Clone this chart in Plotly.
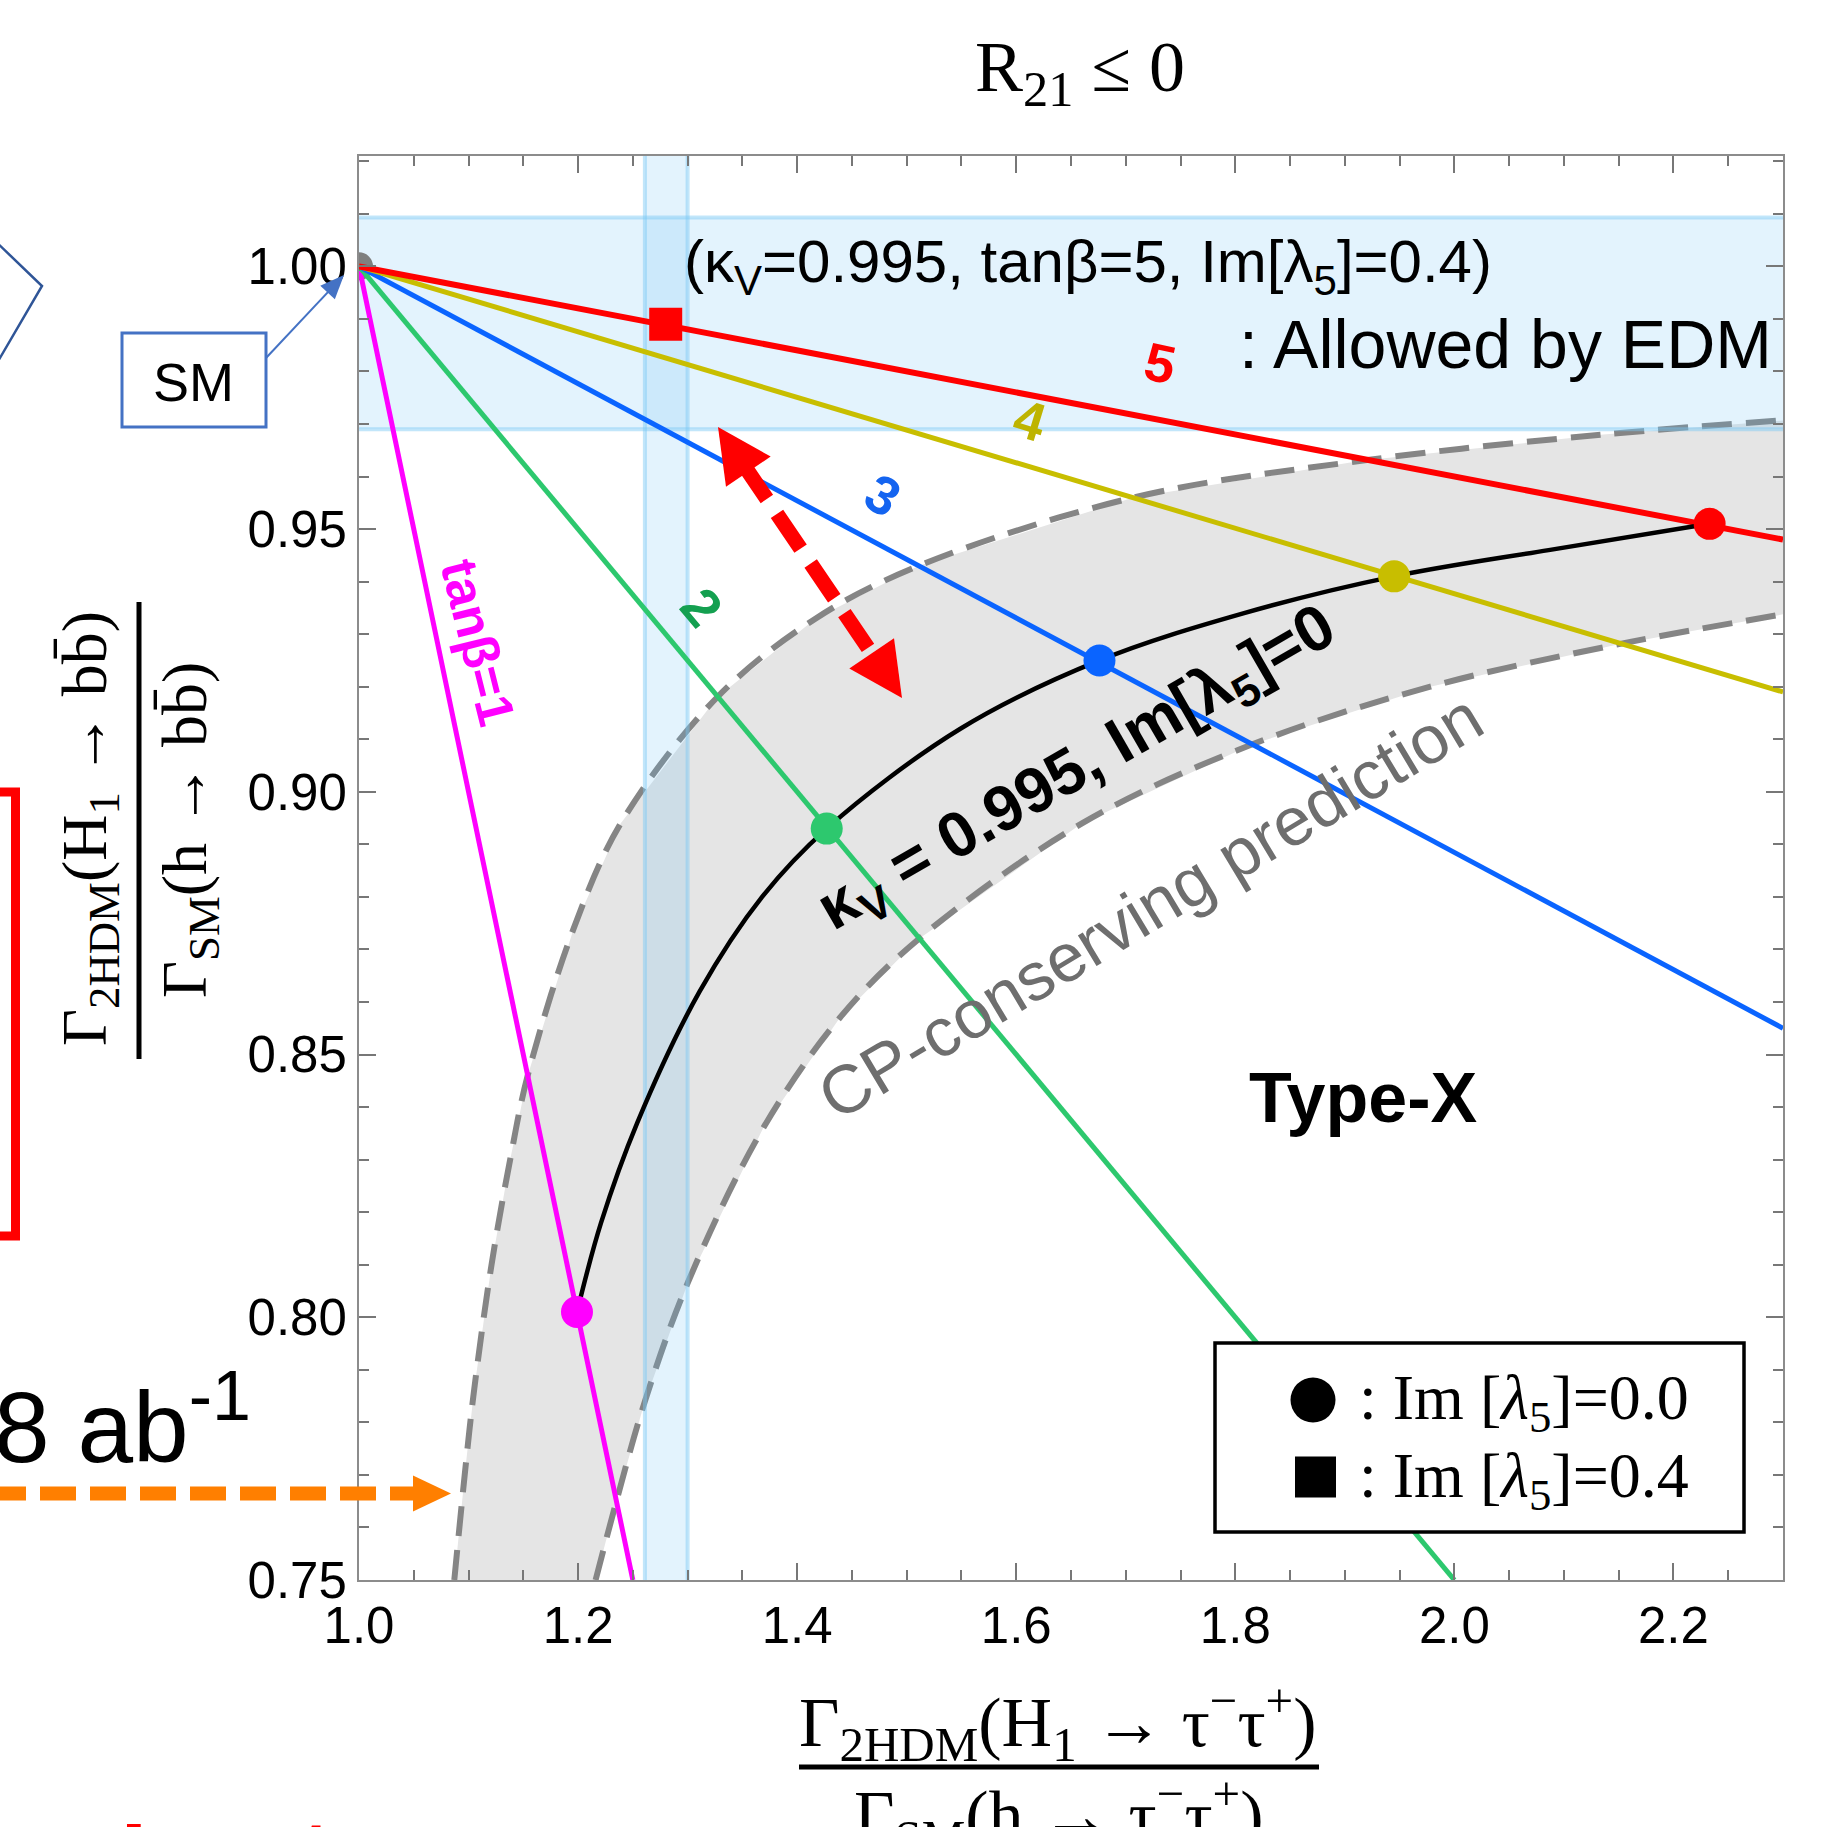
import plotly.graph_objects as go

# ---------------- data ----------------
x_range = [1.0, 2.3]
y_range = [0.75, 1.021]
x_ticks = [1.0, 1.2, 1.4, 1.6, 1.8, 2.0, 2.2]
x_tick_labels = ["1.0", "1.2", "1.4", "1.6", "1.8", "2.0", "2.2"]
y_ticks = [0.75, 0.80, 0.85, 0.90, 0.95, 1.00]
y_tick_labels = ["0.75", "0.80", "0.85", "0.90", "0.95", "1.00"]

sm_x = [1.0]
sm_y = [1.0]

tanb_values = ["1", "2", "3", "4", "5"]
line_end_x = [1.25, 2.0, 2.3, 2.3, 2.3]
line_end_y = [0.75, 0.75, 0.855, 0.919, 0.948]

cpc_dot_x = [1.199, 1.427, 1.676, 1.945, 2.233]
cpc_dot_y = [0.801, 0.893, 0.925, 0.941, 0.951]

cpv_square_x = [1.28]
cpv_square_y = [0.989]

kv0995_x = [1.199, 1.221, 1.254, 1.311, 1.368, 1.427, 1.549, 1.676, 1.808, 1.945, 2.086, 2.233]
kv0995_y = [0.801, 0.818, 0.837, 0.862, 0.880, 0.893, 0.912, 0.925, 0.934, 0.941, 0.946, 0.951]

band_upper_x = [1.087, 1.097, 1.105, 1.121, 1.138, 1.154, 1.196, 1.239, 1.327, 1.417, 1.511, 1.707, 1.915, 2.136, 2.321]
band_upper_y = [0.750, 0.771, 0.786, 0.810, 0.830, 0.846, 0.874, 0.894, 0.918, 0.933, 0.943, 0.956, 0.963, 0.968, 0.971]

band_lower_x = [1.216, 1.235, 1.261, 1.301, 1.369, 1.439, 1.511, 1.660, 1.815, 1.978, 2.148, 2.306]
band_lower_y = [0.750, 0.765, 0.784, 0.807, 0.836, 0.857, 0.872, 0.894, 0.909, 0.920, 0.928, 0.934]

edm_band_y = [0.969, 1.0093]
tau_band_x = [1.261, 1.300]

# ---------------- styles ----------------
line_colors = ["#FF00FF", "#2DC86E", "#0A64FF", "#C8BE00", "#FF0000"]
label_colors = ["#FF00FF", "#14A050", "#1464F0", "#BEB400", "#FF0000"]
line_widths = [5, 5, 5, 5, 6]

SANS = "Liberation Sans, Arial, sans-serif"
SERIF = "Liberation Serif, Times New Roman, serif"

W, H = 1827, 1827
L, R, T, B = 359, 1783, 156, 1580


def px(X):
    return (X - L) / (R - L)


def py(Y):
    return (B - Y) / (B - T)


fig = go.Figure()

# CP-conserving band fill
fig.add_trace(go.Scatter(x=band_upper_x + band_lower_x[::-1], y=band_upper_y + band_lower_y[::-1],
                         mode="lines", fill="toself", fillcolor="#E5E5E5", line=dict(width=0),
                         hoverinfo="skip"))
for bx, by in [(band_upper_x, band_upper_y), (band_lower_x, band_lower_y)]:
    fig.add_trace(go.Scatter(x=bx, y=by, mode="lines",
                             line=dict(color="#858585", width=6, dash="30px,14px", shape="spline"),
                             hoverinfo="skip"))

# light-blue bands
band_fill = "rgba(100,190,245,0.18)"
band_edge = "rgba(120,200,245,0.45)"
fig.add_trace(go.Scatter(x=[x_range[0], x_range[1], x_range[1], x_range[0]],
                         y=[edm_band_y[0], edm_band_y[0], edm_band_y[1], edm_band_y[1]],
                         mode="lines", fill="toself", fillcolor=band_fill, line=dict(width=0), hoverinfo="skip"))
fig.add_trace(go.Scatter(x=[tau_band_x[0], tau_band_x[1], tau_band_x[1], tau_band_x[0]],
                         y=[y_range[0], y_range[0], y_range[1], y_range[1]],
                         mode="lines", fill="toself", fillcolor=band_fill, line=dict(width=0), hoverinfo="skip"))
for yv in edm_band_y:
    fig.add_trace(go.Scatter(x=x_range, y=[yv, yv], mode="lines", line=dict(color=band_edge, width=4),
                             hoverinfo="skip"))
for xv in tau_band_x:
    fig.add_trace(go.Scatter(x=[xv, xv], y=y_range, mode="lines", line=dict(color=band_edge, width=4),
                             hoverinfo="skip"))

# SM point
fig.add_trace(go.Scatter(x=sm_x, y=sm_y, mode="markers", marker=dict(size=28, color="#7F7F7F"),
                         cliponaxis=True, hoverinfo="skip"))

# tan(beta) lines
for i in range(len(tanb_values)):
    fig.add_trace(go.Scatter(x=[sm_x[0], line_end_x[i]], y=[sm_y[0], line_end_y[i]], mode="lines",
                             line=dict(color=line_colors[i], width=line_widths[i]), hoverinfo="skip"))

# kappa_V = 0.995 curve
fig.add_trace(go.Scatter(x=kv0995_x, y=kv0995_y, mode="lines",
                         line=dict(color="black", width=4.5, shape="spline"), hoverinfo="skip"))

# dots and square
fig.add_trace(go.Scatter(x=cpc_dot_x, y=cpc_dot_y, mode="markers",
                         marker=dict(size=32, color=line_colors, line=dict(width=0)), hoverinfo="skip"))
fig.add_trace(go.Scatter(x=cpv_square_x, y=cpv_square_y, mode="markers",
                         marker=dict(size=33, color="#FF0000", symbol="square", line=dict(width=0)),
                         hoverinfo="skip"))


# ---------------- decorations ----------------
def tri(tip, u, length, halfw):
    bx, by = tip[0] - u[0] * length, tip[1] - u[1] * length
    nx, ny = -u[1], u[0]
    p1 = (bx + nx * halfw, by + ny * halfw)
    p2 = (bx - nx * halfw, by - ny * halfw)
    return ("M {:.5f},{:.5f} L {:.5f},{:.5f} L {:.5f},{:.5f} Z".format(
        px(tip[0]), py(tip[1]), px(p1[0]), py(p1[1]), px(p2[0]), py(p2[1])))


def pline(X0, Y0, X1, Y1, color, width, dash="solid"):
    return dict(type="line", xref="paper", yref="paper", x0=px(X0), y0=py(Y0), x1=px(X1), y1=py(Y1),
                line=dict(color=color, width=width, dash=dash), layer="above")


def ppath(path, fill, color=None, width=0):
    return dict(type="path", xref="paper", yref="paper", path=path, fillcolor=fill,
                line=dict(color=color or fill, width=width), layer="above")


shapes = []
# red dashed double arrow
t1, t2 = (718, 427), (902, 698)
dx, dy = t2[0] - t1[0], t2[1] - t1[1]
ln = (dx * dx + dy * dy) ** 0.5
u = (dx / ln, dy / ln)
shapes.append(pline(t1[0] + u[0] * 45, t1[1] + u[1] * 45, t2[0] - u[0] * 45, t2[1] - u[1] * 45,
                    "#FF0000", 15, "42px,18px"))
shapes.append(ppath(tri(t2, u, 54, 27), "#FF0000"))
shapes.append(ppath(tri(t1, (-u[0], -u[1]), 54, 27), "#FF0000"))

# SM box and arrow
shapes.append(dict(type="rect", xref="paper", yref="paper", x0=px(122), x1=px(266), y0=py(427), y1=py(333),
                   line=dict(color="#4472C4", width=3), fillcolor="white", layer="above"))
sa, sb = (266, 358), (344, 275)
dx, dy = sb[0] - sa[0], sb[1] - sa[1]
ln = (dx * dx + dy * dy) ** 0.5
us = (dx / ln, dy / ln)
shapes.append(pline(sa[0], sa[1], sb[0] - us[0] * 18, sb[1] - us[1] * 18, "#4472C4", 2))
shapes.append(ppath(tri(sb, us, 24, 10), "#4472C4"))

# blue chevron at top-left (slide element)
shapes.append(dict(type="path", xref="paper", yref="paper",
                   path="M {:.5f},{:.5f} L {:.5f},{:.5f} L {:.5f},{:.5f}".format(
                       px(-10), py(236), px(42), py(286), px(-10), py(375)),
                   line=dict(color="#2F5597", width=2.5), layer="above"))
# red rectangle at left (slide element)
shapes.append(dict(type="rect", xref="paper", yref="paper", x0=px(-40), x1=px(15.5), y0=py(1236), y1=py(792),
                   line=dict(color="#FF0000", width=9), layer="above"))
# orange dashed arrow
shapes.append(pline(-10, 1493.5, 416, 1493.5, "#FF7F00", 14, "36px,14px"))
shapes.append(ppath(tri((451, 1493.5), (1, 0), 38, 18), "#FF7F00"))

# fraction bars for axis titles
shapes.append(pline(139, 602, 139, 1059, "black", 5))
shapes.append(pline(799, 1767, 1319, 1767, "black", 5))

# legend box
shapes.append(dict(type="rect", xref="paper", yref="paper", x0=px(1215), x1=px(1744), y0=py(1532), y1=py(1343),
                   line=dict(color="black", width=3.5), fillcolor="white", layer="above"))
shapes.append(dict(type="circle", xref="paper", yref="paper", x0=px(1290.5), x1=px(1335.5),
                   y0=py(1422.5), y1=py(1377.5), line=dict(width=0), fillcolor="black", layer="above"))
shapes.append(dict(type="rect", xref="paper", yref="paper", x0=px(1295), x1=px(1336),
                   y0=py(1497.5), y1=py(1456.5), line=dict(width=0), fillcolor="black", layer="above"))


def ann(text, X, Y, size, color="black", family=SANS, angle=0, xanchor="center", yanchor="middle"):
    return dict(text=text, x=px(X), y=py(Y), xref="paper", yref="paper", showarrow=False,
                font=dict(family=family, size=size, color=color), textangle=angle,
                xanchor=xanchor, yanchor=yanchor)


annotations = [
    ann("R<sub>21</sub> ≤ 0", 1080, 72, 72, family=SERIF),
    ann("(κ<sub>V</sub>=0.995, tanβ=5, Im[λ<sub>5</sub>]=0.4)", 682, 266, 60, xanchor="left"),
    ann(": Allowed by EDM", 1774, 344, 68, xanchor="right"),
    ann("SM", 193, 382, 54),
    ann("<b>tanβ=1</b>", 478, 642, 52, color=label_colors[0], angle=76),
    ann("<b>2</b>", 702, 607, 54, color=label_colors[1], angle=50),
    ann("<b>3</b>", 883, 495, 54, color=label_colors[2], angle=30),
    ann("<b>4</b>", 1030, 420, 54, color=label_colors[3], angle=17),
    ann("<b>5</b>", 1160, 363, 54, color=label_colors[4], angle=12),
    ann("<b>κ<sub>V</sub> = 0.995, Im[λ<sub>5</sub>]=0</b>", 1077, 770, 64, angle=-30),
    ann("CP-conserving prediction", 1150, 906, 68, color="#6E6E6E", angle=-31),
    ann("<b>Type-X</b>", 1363, 1098, 70),
    ann(": Im [<i>λ</i><sub>5</sub>]=0.0", 1357, 1402, 64, family=SERIF, xanchor="left"),
    ann(": Im [<i>λ</i><sub>5</sub>]=0.4", 1357, 1480, 64, family=SERIF, xanchor="left"),
    # axis titles as fractions
    ann("Γ<sub>2HDM</sub>(H<sub>1</sub> → bb̄)", 89, 829, 64, family=SERIF, angle=-90),
    ann("Γ<sub>SM</sub>(h → bb̄)", 189, 830, 64, family=SERIF, angle=-90),
    ann("Γ<sub>2HDM</sub>(H<sub>1</sub> → τ<sup>−</sup>τ<sup>+</sup>)", 1058, 1722, 70, family=SERIF),
    ann("Γ<sub>SM</sub>(h → τ<sup>−</sup>τ<sup>+</sup>)", 1058, 1815, 70, family=SERIF),
    # slide leftovers
    ann("8 ab<sup>-1</sup>", 253, 1420, 100, xanchor="right"),
    ann("<b>l</b>", 134, 1862, 100, color="#FF0000"),
    ann("<b>t</b>", 315, 1856, 100, color="#FF0000"),
]

axis_common = dict(showgrid=False, zeroline=False, showline=True, linecolor="#8C8C8C", linewidth=2,
                   mirror="allticks", ticks="inside", tickcolor="#777777", tickwidth=2, ticklen=17,
                   tickfont=dict(family=SANS, size=51, color="black"))

fig.update_layout(
    width=W, height=H,
    margin=dict(l=L, r=W - R, t=T, b=H - B, pad=0),
    paper_bgcolor="white", plot_bgcolor="white",
    showlegend=False,
    shapes=shapes,
    annotations=annotations,
    xaxis=dict(range=x_range, tickvals=x_ticks, ticktext=x_tick_labels, ticklabelstandoff=0,
               minor=dict(dtick=0.05, ticks="inside", ticklen=10, tickwidth=2, tickcolor="#777777",
                          showgrid=False),
               **axis_common),
    yaxis=dict(range=y_range, tickvals=y_ticks, ticktext=y_tick_labels, ticklabelstandoff=0,
               minor=dict(dtick=0.01, ticks="inside", ticklen=10, tickwidth=2, tickcolor="#777777",
                          showgrid=False),
               **axis_common),
)

fig.write_html("out.html", config={"displayModeBar": False},
               post_script="document.body.style.margin='0px';")
